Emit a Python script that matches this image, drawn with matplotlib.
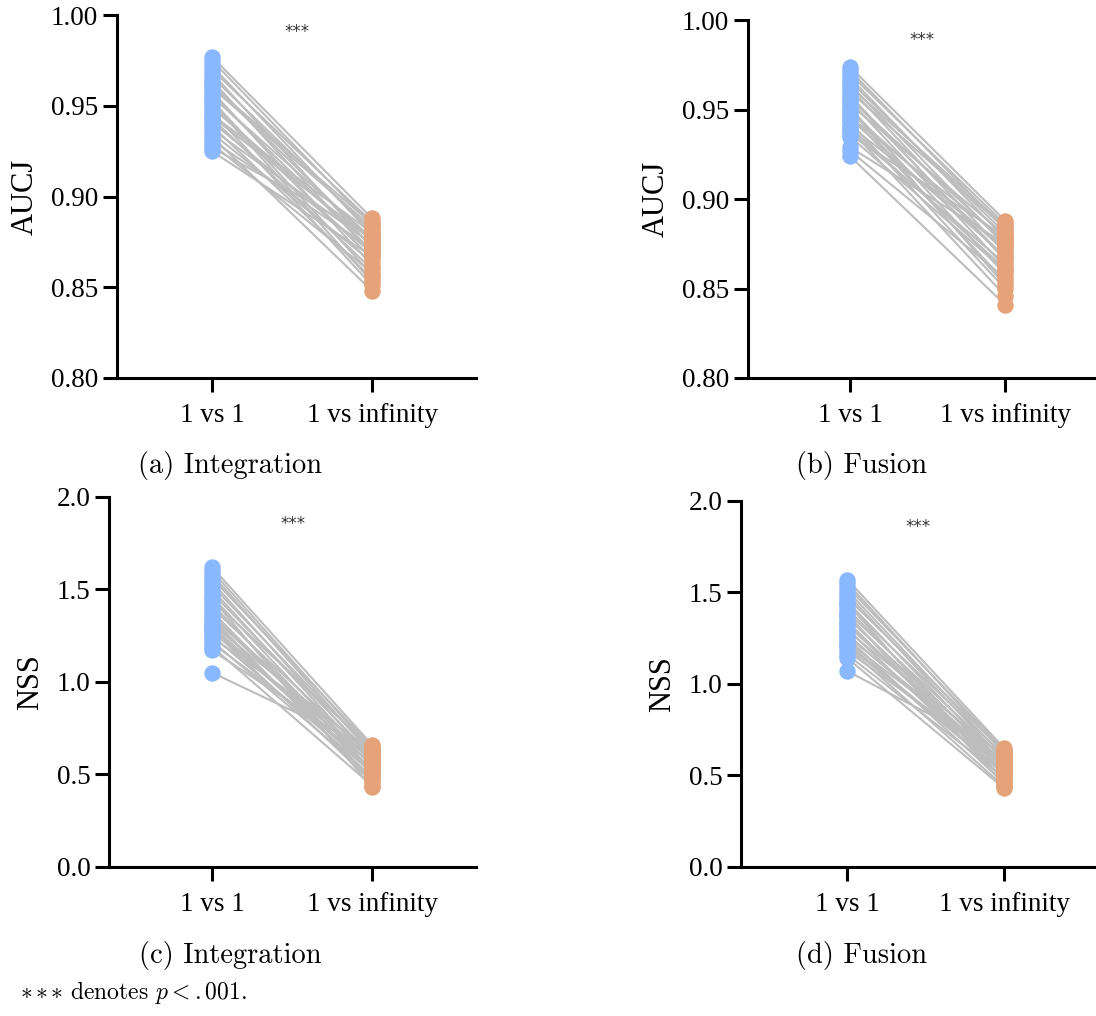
import numpy as np
import matplotlib.pyplot as plt

plt.rcParams['font.family'] = ['Liberation Serif', 'DejaVu Serif']
plt.rcParams['mathtext.fontset'] = 'cm'

# conditions on the x axis
conditions = ['1 vs 1', '1 vs infinity']

# (a) AUCJ, Integration
a_one = [0.977, 0.975, 0.972, 0.970, 0.968, 0.966, 0.964, 0.962, 0.960, 0.958,
         0.956, 0.955, 0.953, 0.951, 0.949, 0.947, 0.945, 0.943, 0.941, 0.939,
         0.937, 0.935, 0.933, 0.931, 0.929, 0.927, 0.925, 0.961, 0.952, 0.944]
a_inf = [0.888, 0.884, 0.879, 0.886, 0.872, 0.881, 0.868, 0.875, 0.883, 0.862,
         0.870, 0.877, 0.857, 0.866, 0.873, 0.851, 0.880, 0.860, 0.869, 0.855,
         0.874, 0.864, 0.848, 0.871, 0.858, 0.878, 0.867, 0.885, 0.853, 0.876]

# (b) AUCJ, Fusion
b_one = [0.974, 0.972, 0.970, 0.968, 0.966, 0.964, 0.962, 0.960, 0.958, 0.956,
         0.955, 0.953, 0.951, 0.949, 0.947, 0.945, 0.943, 0.941, 0.939, 0.938,
         0.936, 0.935, 0.929, 0.927, 0.924, 0.957, 0.950, 0.946, 0.963, 0.940]
b_inf = [0.888, 0.883, 0.886, 0.878, 0.881, 0.874, 0.870, 0.884, 0.866, 0.876,
         0.862, 0.880, 0.858, 0.871, 0.854, 0.868, 0.850, 0.873, 0.846, 0.864,
         0.879, 0.860, 0.875, 0.856, 0.841, 0.867, 0.852, 0.877, 0.885, 0.861]

# (c) NSS, Integration
c_one = [1.62, 1.60, 1.58, 1.56, 1.54, 1.52, 1.50, 1.48, 1.46, 1.44,
         1.42, 1.40, 1.38, 1.36, 1.35, 1.33, 1.31, 1.30, 1.28, 1.27,
         1.25, 1.24, 1.22, 1.21, 1.19, 1.17, 1.05, 1.34, 1.29, 1.45]
c_inf = [0.66, 0.63, 0.61, 0.65, 0.58, 0.62, 0.56, 0.60, 0.54, 0.64,
         0.52, 0.59, 0.50, 0.57, 0.55, 0.48, 0.61, 0.53, 0.46, 0.58,
         0.51, 0.63, 0.49, 0.56, 0.44, 0.60, 0.64, 0.47, 0.52, 0.43]

# (d) NSS, Fusion
d_one = [1.57, 1.55, 1.53, 1.51, 1.49, 1.47, 1.45, 1.43, 1.41, 1.39,
         1.37, 1.36, 1.34, 1.32, 1.30, 1.29, 1.27, 1.25, 1.23, 1.21,
         1.20, 1.18, 1.16, 1.14, 1.07, 1.44, 1.33, 1.26, 1.38, 1.22]
d_inf = [0.65, 0.62, 0.64, 0.60, 0.58, 0.63, 0.56, 0.61, 0.54, 0.59,
         0.52, 0.57, 0.50, 0.55, 0.48, 0.60, 0.53, 0.46, 0.58, 0.51,
         0.44, 0.56, 0.49, 0.43, 0.62, 0.47, 0.54, 0.57, 0.45, 0.52]

panels = [
    # one, inf, ylabel, ylim, yticks, fmt, caption, axes rect, xlim, stars y (axes frac), caption x/y (px)
    (a_one, a_inf, 'AUCJ', (0.80, 1.00), [0.80, 0.85, 0.90, 0.95, 1.00], '%.2f',
     '(a) Integration', [0.1068, 0.628, 0.3275, 0.357], (-0.594, 1.65), 0.953, (230, 465)),
    (b_one, b_inf, 'AUCJ', (0.80, 1.00), [0.80, 0.85, 0.90, 0.95, 1.00], '%.2f',
     '(b) Fusion', [0.6825, 0.628, 0.3175, 0.352], (-0.658, 1.587), 0.944, (862, 465)),
    (c_one, c_inf, 'NSS', (0.0, 2.0), [0.0, 0.5, 1.0, 1.5, 2.0], '%.1f',
     '(c) Integration', [0.0995, 0.1467, 0.3348, 0.3643], (-0.644, 1.65), 0.927, (230, 955)),
    (d_one, d_inf, 'NSS', (0.0, 2.0), [0.0, 0.5, 1.0, 1.5, 2.0], '%.1f',
     '(d) Fusion', [0.6761, 0.1467, 0.3239, 0.3602], (-0.68, 1.587), 0.929, (862, 955)),
]

blue = '#8ab8fe'
orange = '#e6a279'
grey = '#bdbdbd'

W, H = 1096, 1016
fig = plt.figure(figsize=(W / 100, H / 100), dpi=100)

for one, inf, ylab, ylim, yticks, fmt, caption, rect, xlim, star_y, cap in panels:
    ax = fig.add_axes(rect)
    for y0, y1 in zip(one, inf):
        ax.plot([0, 1], [y0, y1], color=grey, lw=1.5, zorder=1)
    ax.scatter(np.zeros(len(one)), one, s=140, color=blue, lw=0, zorder=3)
    ax.scatter(np.ones(len(inf)), inf, s=140, color=orange, lw=0, zorder=3)

    ax.set_xlim(*xlim)
    ax.set_ylim(*ylim)
    ax.set_xticks([0, 1])
    ax.set_xticklabels(conditions)
    ax.set_yticks(yticks)
    ax.set_yticklabels([fmt % v for v in yticks])
    ax.set_ylabel(ylab, fontsize=22, labelpad=8)
    for s in ['top', 'right']:
        ax.spines[s].set_visible(False)
    for s in ['left', 'bottom']:
        ax.spines[s].set_linewidth(2.2)
    ax.tick_params(length=10, width=2.2, labelsize=19.5)
    ax.tick_params(axis='x', pad=8)
    ax.text(0.5, star_y, '***', transform=ax.transAxes, ha='center', va='center',
            fontsize=12, color='#333333', family='DejaVu Sans')

    fig.text(cap[0] / W, 1 - cap[1] / H, caption,
             family='cmr10', fontsize=20.5, ha='center', va='center')

fig.text(20 / W, 1 - 993 / H,
         r'${\ast}\,{\ast}\,{\ast}$ denotes $p < \mathrm{.001}$.',
         family='cmr10', fontsize=17, ha='left', va='center')

fig.savefig('out.png', dpi=100)
